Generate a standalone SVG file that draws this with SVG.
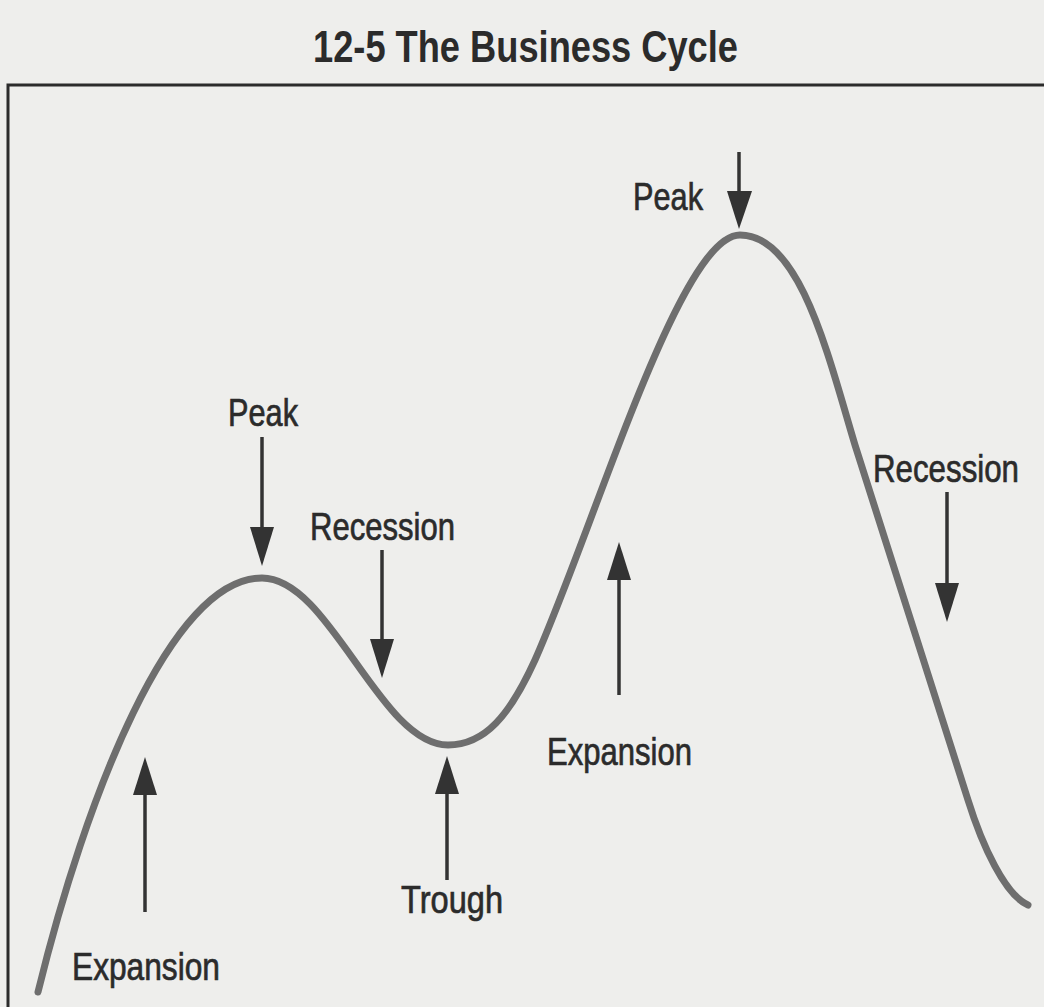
<svg xmlns="http://www.w3.org/2000/svg" width="1044" height="1007" viewBox="0 0 1044 1007">
  <defs>
    <style>
      .lbl { font-family: "Liberation Sans", Arial, sans-serif; font-size: 39px; fill: #2b2b2b; stroke: #2b2b2b; stroke-width: 0.7; }
      .title { font-family: "Liberation Sans", Arial, sans-serif; font-size: 44px; font-weight: bold; fill: #2b2b2b; }
      .arrow { stroke: #333; stroke-width: 3.5; fill: none; }
      .head { fill: #333; }
      .curve { stroke: #6e6e6e; stroke-width: 7; fill: none; stroke-linecap: round; }
      .frame { stroke: #2b2b2b; stroke-width: 3; fill: none; }
    </style>
  </defs>
  <rect x="0" y="0" width="1044" height="1007" fill="#eeeeec"/>
  <text class="title" x="313" y="62" textLength="425" lengthAdjust="spacingAndGlyphs">12-5 The Business Cycle</text>
  <g id="frame">
    <path class="frame" d="M1044,85 L8,85 L8,1007"/>
  </g>
  <g id="curve">
    <path class="curve" d="M38,992 C85,800 170,578 262,578 C330,578 380,745 448,745 C485,745 510,715 535,660 C595,525 680,235 740,235 C800,235 828,355 855,445 L968,800 C982,845 1005,895 1028,905"/>
  </g>
  <g id="connectors">
    <line class="arrow" x1="739" y1="152" x2="739" y2="195"/>
    <polygon class="head" points="727,191 752,191 739,229"/>
    <line class="arrow" x1="262" y1="437" x2="262" y2="530"/>
    <polygon class="head" points="250,527 274,527 262,566"/>
    <line class="arrow" x1="382" y1="550" x2="382" y2="642"/>
    <polygon class="head" points="370,639 394,639 382,678"/>
    <line class="arrow" x1="447" y1="790" x2="447" y2="880"/>
    <polygon class="head" points="435,794 459,794 447,756"/>
    <line class="arrow" x1="145" y1="792" x2="145" y2="912"/>
    <polygon class="head" points="133,795 157,795 145,757"/>
    <line class="arrow" x1="619" y1="577" x2="619" y2="695"/>
    <polygon class="head" points="607,580 631,580 619,542"/>
    <line class="arrow" x1="947" y1="492" x2="947" y2="586"/>
    <polygon class="head" points="935,583 959,583 947,622"/>
  </g>
  <g id="peak-top"><text class="lbl" x="633" y="210" textLength="70" lengthAdjust="spacingAndGlyphs">Peak</text></g>
  <g id="peak-left"><text class="lbl" x="228" y="426" textLength="70" lengthAdjust="spacingAndGlyphs">Peak</text></g>
  <g id="recession-mid"><text class="lbl" x="310" y="540" textLength="145" lengthAdjust="spacingAndGlyphs">Recession</text></g>
  <g id="recession-right"><text class="lbl" transform="translate(873,482) scale(0.802,1)" x="0" y="0">Recession</text></g>
  <g id="expansion-left"><text class="lbl" x="72" y="980" textLength="148" lengthAdjust="spacingAndGlyphs">Expansion</text></g>
  <g id="expansion-mid"><text class="lbl" x="547" y="765" textLength="145" lengthAdjust="spacingAndGlyphs">Expansion</text></g>
  <g id="trough"><text class="lbl" x="401" y="913" textLength="102" lengthAdjust="spacingAndGlyphs">Trough</text></g>
</svg>
